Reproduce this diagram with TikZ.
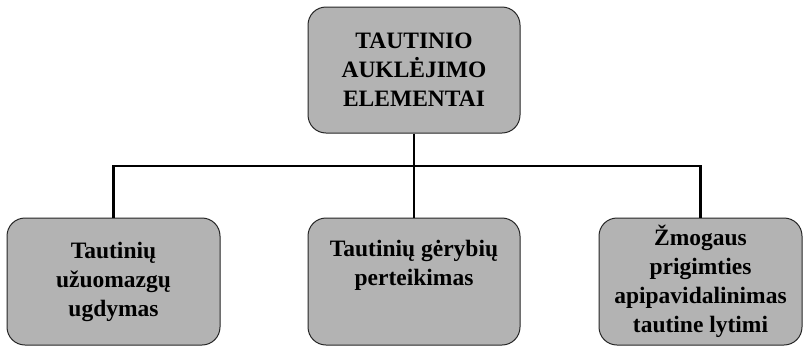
\documentclass[tikz,border=0pt]{standalone}
\usepackage{fontspec}
\setmainfont{Liberation Serif}
\definecolor{boxgray}{RGB}{179,179,179}
\begin{document}
\begin{tikzpicture}[x=1pt,y=-1pt,
  box/.style={draw=black!85, line width=1pt, fill=boxgray, rounded corners=18pt,
    minimum width=#1, inner sep=0pt, align=center,
    font=\fontsize{23.5}{29}\selectfont\bfseries},
  conn/.style={draw=black, line width=2.4pt}]
\useasboundingbox (0,0) rectangle (803,346);
\node[box=212pt, minimum height=126pt] (top) at (414,70) {TAUTINIO\\AUKLĖJIMO\\ELEMENTAI};
\node[box=213pt, minimum height=127pt] (left) at (113.5,281.5) {Tautinių\\užuomazgų\\ugdymas};
\node[box=212pt, minimum height=127pt] (mid) at (414,281.5) {Tautinių gėrybių\\perteikimas\\\strut};
\node[box=203pt, minimum height=127pt] (right) at (700.5,281.5) {Žmogaus\\prigimties\\apipavidalinimas\\tautine lytimi};
\coordinate (bus) at (414,166);
\draw[conn] (top.south) -- (bus);
\draw[conn] (bus) -- (mid.north);
\draw[conn] (left.north) |- (bus) -| (right.north);
\end{tikzpicture}
\end{document}
